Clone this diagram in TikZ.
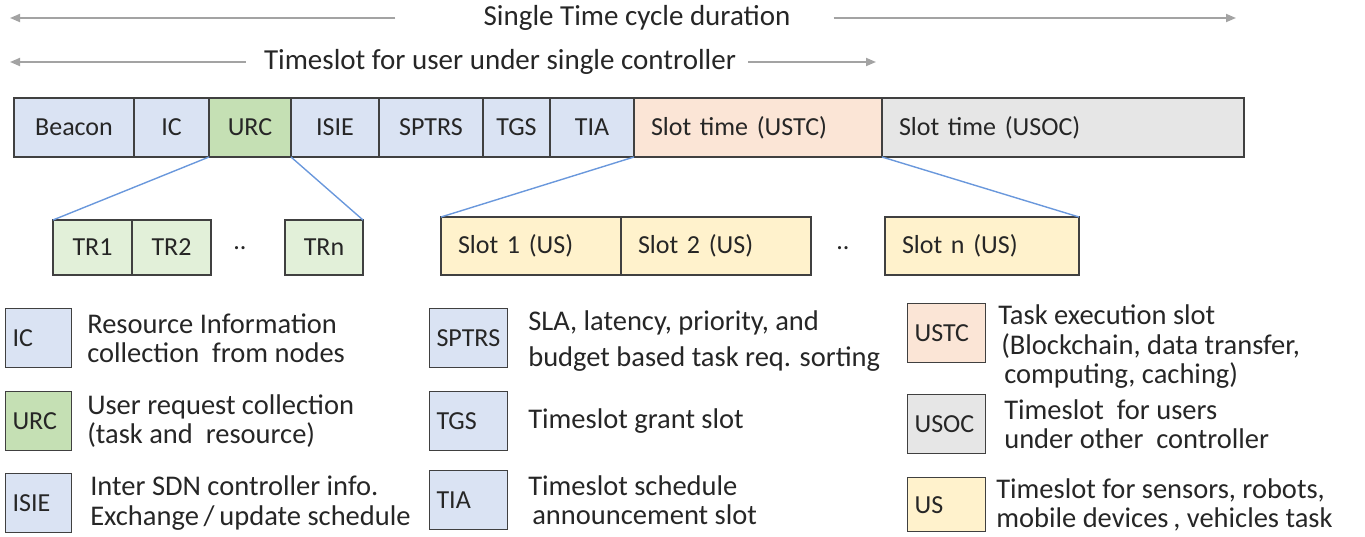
\documentclass[tikz,border=0pt]{standalone}
\usepackage{fontspec}
\setmainfont{Carlito}
\usetikzlibrary{arrows.meta,positioning}

\definecolor{inkgray}{HTML}{262626}
\definecolor{edgegray}{HTML}{404040}
\definecolor{spangray}{HTML}{A3A3A3}
\definecolor{linkblue}{HTML}{6A98DC}
\definecolor{ctrlblue}{HTML}{DAE3F3}
\definecolor{urcgreen}{HTML}{C5E0B4}
\definecolor{trgreen}{HTML}{E2F0D9}
\definecolor{ustcpeach}{HTML}{FBE5D6}
\definecolor{usocgray}{HTML}{E6E6E6}
\definecolor{usyellow}{HTML}{FFF2CC}

\begin{document}
\begin{tikzpicture}[
  x=1pt, y=-1pt,
  text=inkgray,
  head/.style={inner sep=0pt, font=\fontsize{29}{30}\selectfont},
  span/.style={-{Triangle[length=10pt, width=8pt]}, draw=spangray, line width=1.8pt},
  cell/.style={draw=edgegray, line width=1.1pt, minimum height=59pt, inner sep=0pt, outer sep=0pt,
    anchor=north west, font=\fontsize{26}{28}\selectfont},
  padcell/.style={cell, inner xsep=17pt, text width=#1, align=left},
  link/.style={draw=linkblue, line width=1.4pt},
  dots/.style={inner sep=0pt, font=\fontsize{26}{28}\selectfont},
  legbox/.style={draw=edgegray, line width=1.1pt, minimum height=59pt, inner xsep=7pt, inner ysep=0pt,
    text width=#1, align=left, anchor=north west, font=\fontsize{26}{28}\selectfont},
  desc/.style={inner sep=0pt, align=left, font=\fontsize{28.5}{29.5}\selectfont}
]
\useasboundingbox (0,0) rectangle (1365,536);

% duration arrows
\node[head] (cycle) at (637,18) {Single Time cycle duration};
\coordinate (cycleL) at (10,18);
\coordinate (cycleR) at (1236,18);
\draw[span] ([xshift=-88pt]cycle.west) -- (cycleL);
\draw[span] ([xshift=43pt]cycle.east) -- (cycleR);

\node[head] (single) at (500,62) {Timeslot for user under single controller};
\coordinate (singleL) at (10,62);
\coordinate (singleR) at (876,62);
\draw[span] ([xshift=-18pt]single.west) -- (singleL);
\draw[span] ([xshift=12pt]single.east) -- (singleR);

% frame
\node[cell, fill=ctrlblue, minimum width=120pt] (beacon) at (14,98) {Beacon};
\node[cell, fill=ctrlblue, minimum width=75pt, right=0pt of beacon] (ic) {IC};
\node[cell, fill=urcgreen, minimum width=82pt, right=0pt of ic] (urc) {URC};
\node[cell, fill=ctrlblue, minimum width=88pt, right=0pt of urc] (isie) {ISIE};
\node[cell, fill=ctrlblue, minimum width=104pt, right=0pt of isie] (sptrs) {SPTRS};
\node[cell, fill=ctrlblue, minimum width=67pt, right=0pt of sptrs] (tgs) {TGS};
\node[cell, fill=ctrlblue, minimum width=84pt, right=0pt of tgs] (tia) {TIA};
\node[padcell=214pt, fill=ustcpeach, right=0pt of tia] (ustc) {Slot time (USTC)};
\node[padcell=328pt, fill=usocgray, right=0pt of ustc] (usoc) {Slot time (USOC)};

% request slots
\node[cell, fill=trgreen, minimum width=79pt, minimum height=55pt] (tr1) at (53,220) {TR1};
\node[cell, fill=trgreen, minimum width=79pt, minimum height=55pt, right=0pt of tr1] (tr2) {TR2};
\node[dots] (dotsA) at (240,248) {..};
\node[cell, fill=trgreen, minimum width=78pt, minimum height=55pt] (trn) at (285,220) {TRn};

% user slots
\node[padcell=146pt, fill=usyellow, minimum height=58pt] (slot1) at (441,217) {Slot 1 (US)};
\node[padcell=156pt, fill=usyellow, minimum height=58pt, right=0pt of slot1] (slot2) {Slot 2 (US)};
\node[dots] (dotsB) at (843,248) {..};
\node[padcell=160pt, fill=usyellow, minimum height=58pt] (slotn) at (885,217) {Slot n (US)};

\draw[link] (urc.south west) -- (tr1.north west);
\draw[link] (urc.south east) -- (trn.north east);
\draw[link] (ustc.south west) -- (slot1.north west);
\draw[link] (ustc.south east) -- (slotn.north east);

% legend, first column
\node[legbox=52pt, fill=ctrlblue] (icKey) at (5,308) {IC};
\node[legbox=52pt, fill=urcgreen, below=23pt of icKey] (urcKey) {URC};
\node[legbox=52pt, fill=ctrlblue, below=22pt of urcKey] (isieKey) {ISIE};
\node[desc, right=15pt of icKey] (icTxt) {Resource Information\\collection\ \ from nodes};
\node[desc, right=15pt of urcKey] (urcTxt) {User request collection\\(task and\ \ resource)};
\node[desc, right=18pt of isieKey] (isieTxt) {Inter SDN controller info.\\Exchange\,/\,update schedule};

% legend, second column
\node[legbox=64pt, fill=ctrlblue] (sptrsKey) at (429,308) {SPTRS};
\node[legbox=64pt, fill=ctrlblue, below=23pt of sptrsKey] (tgsKey) {TGS};
\node[legbox=64pt, fill=ctrlblue, below=19pt of tgsKey] (tiaKey) {TIA};
\node[desc, right=20pt of sptrsKey, yshift=-3pt] (sptrsTxt) {SLA, latency, priority, and\\[7pt]budget based task req. sorting};
\node[desc, right=20pt of tgsKey] (tgsTxt) {Timeslot grant slot};
\node[desc, right=20pt of tiaKey] (tiaTxt) {Timeslot schedule\\\hspace{4pt}announcement slot};

% legend, third column
\node[legbox=64pt, fill=ustcpeach] (ustcKey) at (907,303) {USTC};
\node[legbox=64pt, fill=usocgray, below=31pt of ustcKey] (usocKey) {USOC};
\node[legbox=64pt, fill=usyellow, minimum height=54pt, below=23pt of usocKey] (usKey) {US};
\node[desc, anchor=north west] (ustcTxt) at ([xshift=12pt,yshift=-2pt]ustcKey.north east)
  {Task execution slot\\\hspace{3pt}(Blockchain, data transfer,\\\hspace{6pt}computing, caching)};
\node[desc, right=18pt of usocKey] (usocTxt) {Timeslot\ \ for users\\under other\ \ controller};
\node[desc, right=10pt of usKey] (usTxt) {Timeslot for sensors, robots,\\mobile devices\,, vehicles task};
\end{tikzpicture}
\end{document}
